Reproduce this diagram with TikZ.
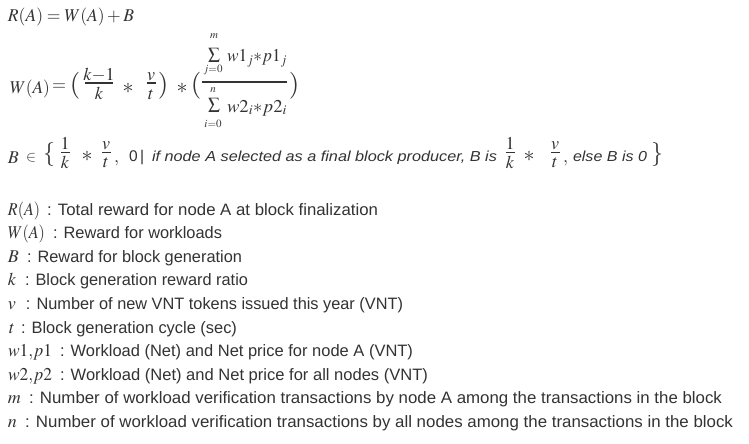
\documentclass[tikz,border=0pt]{standalone}
\usepackage{mathptmx}
\usepackage[no-math]{fontspec}
\setmainfont{Liberation Sans}
\usepackage{graphicx}
\definecolor{ink}{HTML}{333333}
\newcommand\fitw[2]{\resizebox{#1pt}{\height}{#2}}
\newcommand\fitbox[3]{\resizebox*{#1pt}{#2pt}{#3}}
\tikzset{
  txt/.style={inner sep=0pt, outer sep=0pt, anchor=base west, text=ink, font=\fontsize{16.5}{18}\selectfont},
  mth/.style={inner sep=0pt, outer sep=0pt, text=ink, font=\fontsize{18}{20}\selectfont},
  itx/.style={inner sep=0pt, outer sep=0pt, anchor=base west, text=ink, font=\fontsize{14.5}{16}\selectfont\itshape},
  sml/.style={inner sep=0pt, outer sep=0pt, text=ink, font=\fontsize{11}{12}\selectfont},
  bigp/.style={inner sep=0pt, outer sep=0pt, text=ink, font=\fontsize{27}{29}\selectfont},
  star/.style={inner sep=0pt, outer sep=0pt, text=ink, font=\fontsize{22}{24}\selectfont},
  bar/.style={draw=ink, line width=1.4pt},
}
\begin{document}
\begin{tikzpicture}[x=1pt,y=-1pt]
\useasboundingbox[fill=white] (0,0) rectangle (749,444);
% line 1
\node[mth, anchor=base west] (r1) at (8,22) {\fitw{126}{$R(A) = W(A) + B$}};
% line 2
\node[mth, anchor=base west] (w1) at (10,93) {\fitw{40}{$W(A)$}};
\node[mth] (eq) at (59,87) {$=$};
\node[bigp] (p1) at (75,86) {$($};
\node[mth, anchor=base] (fn1) at (99,81) {$k{-}1$};
\draw[bar] (85,83) -- (113,83);
\node[mth, anchor=base] (fd1) at (99,99) {$k$};
\node[star] (s1) at (128,88.5) {$\ast$};
\node[mth, anchor=base] (fn2) at (151,80) {$v$};
\draw[bar] (147,83) -- (156,83);
\node[mth, anchor=base] (fd2) at (151,99) {$t$};
\node[bigp] (p2) at (163,86) {$)$};
\node[star] (s2) at (182,88.5) {$\ast$};
\node[bigp] (p3) at (196,86) {$($};
\draw[ink, line width=1.8pt] (202,82) -- (287,82);
\node[sml] (um) at (214,36) {$m$};
\node[mth] (sg1) at (214,55) {\fitbox{12}{14}{$\sum$}};
\node[sml] (lj) at (213,70) {$j{=}0$};
\node[mth, anchor=base west] (nm) at (227,62) {\fitw{60}{$w1_j{\ast}p1_j$}};
\node[sml] (un) at (213,90) {$n$};
\node[mth] (sg2) at (214,105) {\fitbox{12}{14}{$\sum$}};
\node[sml] (li) at (213,124) {$i{=}0$};
\node[mth, anchor=base west] (dn) at (227,112) {\fitw{60}{$w2_i{\ast}p2_i$}};
\node[bigp] (p4) at (294,86) {$)$};
% line 3
\node[mth, anchor=base west] (b0) at (8,163) {$B$};
\node[mth, font=\fontsize{15}{16}\selectfont] (in) at (31,158) {$\in$};
\node[bigp, font=\fontsize{24}{26}\selectfont] (cb1) at (49,155) {$\{$};
\node[mth, anchor=base] (f3n) at (65,149) {$1$};
\draw[bar, line width=1pt] (61,152.5) -- (70,152.5);
\node[mth, anchor=base] (f3d) at (65,168) {$k$};
\node[star] (s3) at (87,156) {$\ast$};
\node[mth, anchor=base] (f4n) at (106,149.5) {$v$};
\draw[bar, line width=1pt] (102,152.5) -- (111,152.5);
\node[mth, anchor=base] (f4d) at (106,167.5) {$t$};
\node[mth, anchor=base west] (cm1) at (114,162) {$,$};
\node[txt, font=\fontsize{15.5}{16}\selectfont] (z0) at (129,161) {0\,|};
\node[itx] (it1) at (152,161) {\fitw{345}{if node A selected as a final block producer, B is}};
\node[mth, anchor=base] (f5n) at (510,149) {$1$};
\draw[bar, line width=1pt] (506,152.5) -- (515,152.5);
\node[mth, anchor=base] (f5d) at (510,168) {$k$};
\node[star] (s5) at (529,156) {$\ast$};
\node[mth, anchor=base] (f6n) at (555,149.5) {$v$};
\draw[bar, line width=1pt] (551,152.5) -- (560,152.5);
\node[mth, anchor=base] (f6d) at (555,167.5) {$t$};
\node[mth, anchor=base west] (cm2) at (563,162) {$,$};
\node[itx] (it2) at (573,161) {\fitw{74}{else B is 0}};
\node[bigp, font=\fontsize{24}{26}\selectfont] (cb2) at (657,155) {$\}$};
% legend
\node[mth, anchor=base west] (lR) at (8,215) {\fitw{32}{$R(A)$}};
\node[txt] (tR) at (47,215) {\fitw{331}{: Total reward for node A at block finalization}};
\node[mth, anchor=base west] (lW) at (8,238.5) {\fitw{37}{$W(A)$}};
\node[txt] (tW) at (53,238.5) {\fitw{169}{: Reward for workloads}};
\node[mth, anchor=base west] (lB) at (8,262) {$B$};
\node[txt] (tB) at (27,262) {\fitw{215}{: Reward for block generation}};
\node[mth, anchor=base west] (lk) at (8,285.5) {$k$};
\node[txt] (tk) at (25,285.5) {\fitw{223}{: Block generation reward ratio}};
\node[mth, anchor=base west] (lv) at (8,309) {$v$};
\node[txt] (tv) at (26,309) {\fitw{377}{: Number of new VNT tokens issued this year (VNT)}};
\node[mth, anchor=base west] (lt) at (9,333) {$t$};
\node[txt] (tt) at (21,333) {\fitw{216}{: Block generation cycle (sec)}};
\node[mth, anchor=base west] (lw1) at (8,356.5) {\fitw{44}{$w1{,}p1$}};
\node[txt] (tw1) at (60,356.5) {\fitw{353}{: Workload (Net) and Net price for node A (VNT)}};
\node[mth, anchor=base west] (lw2) at (8,380) {\fitw{44}{$w2{,}p2$}};
\node[txt] (tw2) at (60,380) {\fitw{368}{: Workload (Net) and Net price for all nodes (VNT)}};
\node[mth, anchor=base west] (lm) at (8,403.5) {$m$};
\node[txt] (tm) at (29,403.5) {\fitw{693}{: Number of workload verification transactions by node A among the transactions in the block}};
\node[mth, anchor=base west] (ln) at (8,427) {$n$};
\node[txt] (tn) at (25,427) {\fitw{708}{: Number of workload verification transactions by all nodes among the transactions in the block}};
\end{tikzpicture}
\end{document}
